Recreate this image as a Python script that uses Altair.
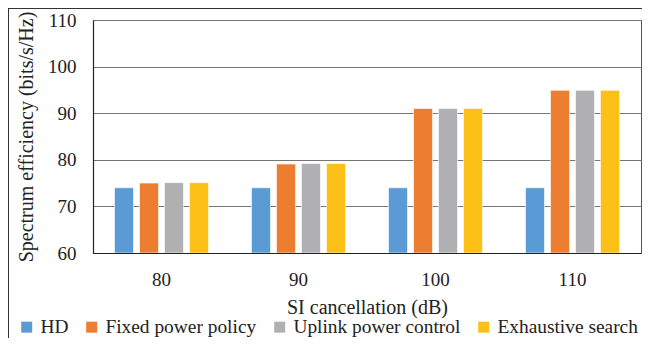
import altair as alt
import pandas as pd

categories = ["80", "90", "100", "110"]
series = ["HD", "Fixed power policy", "Uplink power control", "Exhaustive search"]
hd = [74.0, 74.0, 74.0, 74.0]
fixed = [75.0, 79.1, 91.0, 94.9]
uplink = [75.1, 79.2, 91.0, 94.9]
exhaustive = [75.1, 79.2, 91.0, 94.9]
colors = ["#5B9BD5", "#ED7D31", "#B0B0B3", "#FCC016"]
y_ticks = [60, 70, 80, 90, 100, 110]

rows = []
for name, vals in zip(series, [hd, fixed, uplink, exhaustive]):
    for c, v in zip(categories, vals):
        rows.append({"SI": c, "Series": name, "Value": v})
df = pd.DataFrame(rows)

FONT = "Liberation Serif"

bars = alt.Chart(df).mark_bar(stroke="white", strokeWidth=0.6, clip=True).encode(
    x=alt.X("SI:N", sort=categories, title="SI cancellation (dB)",
            scale=alt.Scale(paddingInner=0.314, paddingOuter=0.157),
            axis=alt.Axis(labelAngle=0, ticks=False, labelPadding=17, titlePadding=8,
                          domainColor="#222222", domainWidth=1.2)),
    xOffset=alt.XOffset("Series:N", sort=series,
                        scale=alt.Scale(paddingInner=0.24, paddingOuter=0)),
    y=alt.Y("Value:Q", title="Spectrum efficiency (bits/s/Hz)",
            scale=alt.Scale(domain=[60, 110], nice=False, zero=False),
            axis=alt.Axis(values=y_ticks, ticks=False, labelPadding=17, titlePadding=11,
                          gridColor="#767676", gridWidth=1,
                          domainColor="#222222", domainWidth=1.2)),
    y2=alt.datum(60),
    color=alt.Color("Series:N", sort=series,
                    scale=alt.Scale(domain=series, range=colors),
                    legend=alt.Legend(title=None, orient="none", direction="horizontal",
                                      legendX=-76, legendY=297, symbolType="square",
                                      symbolSize=121, symbolStrokeWidth=0, symbolOpacity=1,
                                      labelOffset=4, columnPadding=13, labelFontSize=19.4,
                                      labelLimit=400,
                                      labelFont=FONT, labelColor="#222222", columns=4)),
)

border_left = alt.Chart(df).mark_rule(color="#333333", strokeWidth=1).encode(
    x=alt.value(-84.5), y=alt.value(-12), y2=alt.value(330))
border_top = alt.Chart(df).mark_rule(color="#333333", strokeWidth=1).encode(
    x=alt.value(-84.5), x2=alt.value(560), y=alt.value(-11.5))

chart = alt.layer(bars, border_left, border_top).properties(
    width=548, height=233,
    autosize=alt.AutoSizeParams(type="none"),
    padding={"left": 85, "top": 12, "right": 1, "bottom": 85},
    background="white",
).configure_view(stroke="#555555", strokeWidth=1).configure_axis(
    labelFont=FONT, titleFont=FONT, labelFontSize=19, titleFontSize=20,
    labelColor="#222222", titleColor="#222222", titleFontWeight="normal",
)

chart.save("out.html", embed_options={"renderer": "svg", "actions": False})
